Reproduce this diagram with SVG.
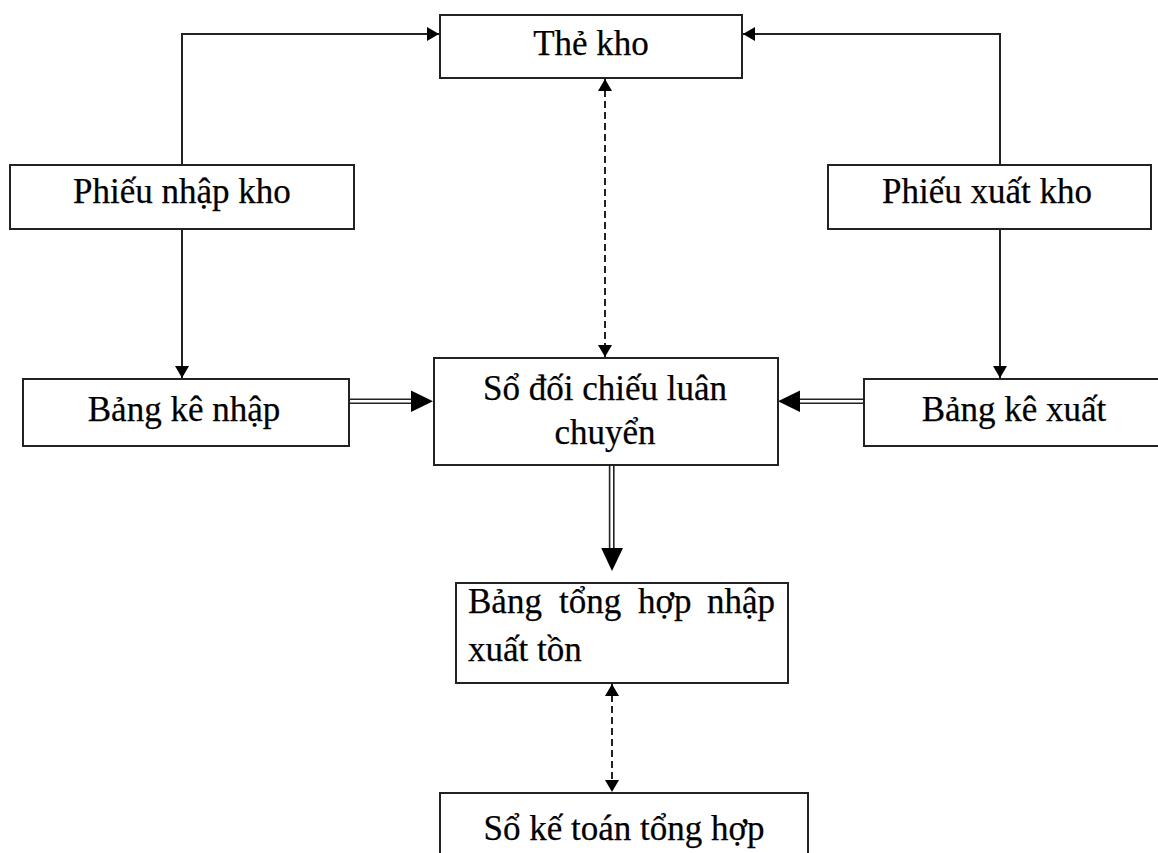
<svg xmlns="http://www.w3.org/2000/svg" width="1158" height="853" viewBox="0 0 1158 853">
  <style>
    .box { fill: #fff; stroke: #222; stroke-width: 2; }
    .lbl { font-family: "Liberation Serif", "Times New Roman", serif; font-size: 35px; fill: #000; stroke: #000; stroke-width: 0.25; }
    .wire { fill: none; stroke: #222; stroke-width: 2; }
    .dash { fill: none; stroke: #222; stroke-width: 2; stroke-dasharray: 7 4; }
    .dbl { fill: none; stroke: #222; stroke-width: 1.6; }
    .head { fill: #000; }
  </style>
  <defs>
    <marker id="tip" viewBox="0 0 12 14" refX="12" refY="7" markerWidth="12" markerHeight="14" markerUnits="userSpaceOnUse" orient="auto">
      <path d="M0,0 L12,7 L0,14 Z" fill="#000"/>
    </marker>
    <marker id="tipStart" viewBox="0 0 12 14" refX="0" refY="7" markerWidth="12" markerHeight="14" markerUnits="userSpaceOnUse" orient="auto">
      <path d="M12,0 L0,7 L12,14 Z" fill="#000"/>
    </marker>
  </defs>

  <g id="connectors">
    <!-- Phiếu nhập kho -> Thẻ kho -->
    <path class="wire" d="M182,165 V34 H439" marker-end="url(#tip)"/>
    <!-- Phiếu xuất kho -> Thẻ kho -->
    <path class="wire" d="M1000,165 V34 H743" marker-end="url(#tip)"/>
    <!-- Phiếu nhập kho -> Bảng kê nhập -->
    <path class="wire" d="M182,229 V378" marker-end="url(#tip)"/>
    <!-- Phiếu xuất kho -> Bảng kê xuất -->
    <path class="wire" d="M1000,229 V378" marker-end="url(#tip)"/>
    <!-- Thẻ kho <-> Sổ đối chiếu luân chuyển (dashed, both ends) -->
    <path class="dash" d="M605,79 V357" marker-start="url(#tipStart)" marker-end="url(#tip)"/>
    <!-- Bảng tổng hợp <-> Sổ kế toán tổng hợp (dashed, both ends) -->
    <path class="dash" d="M612,684 V792" marker-start="url(#tipStart)" marker-end="url(#tip)"/>

    <!-- Bảng kê nhập => Sổ đối chiếu (double line) -->
    <line class="dbl" x1="349" y1="399.2" x2="413" y2="399.2"/>
    <line class="dbl" x1="349" y1="403.2" x2="413" y2="403.2"/>
    <polygon class="head" points="411,390.5 433,401.2 411,412"/>
    <!-- Bảng kê xuất => Sổ đối chiếu (double line) -->
    <line class="dbl" x1="864" y1="399.2" x2="798" y2="399.2"/>
    <line class="dbl" x1="864" y1="403.2" x2="798" y2="403.2"/>
    <polygon class="head" points="800,390.5 778,401.2 800,412"/>
    <!-- Sổ đối chiếu => Bảng tổng hợp (double line) -->
    <line class="dbl" x1="609.6" y1="465" x2="609.6" y2="550"/>
    <line class="dbl" x1="613.8" y1="465" x2="613.8" y2="550"/>
    <polygon class="head" points="601.2,548 623,548 612,571"/>
  </g>

  <g id="the-kho">
    <rect class="box" x="440" y="15" width="302" height="63"/>
    <text class="lbl" x="591" y="55" text-anchor="middle">Thẻ kho</text>
  </g>

  <g id="phieu-nhap-kho">
    <rect class="box" x="10" y="165" width="344" height="64"/>
    <text class="lbl" x="182" y="203" text-anchor="middle">Phiếu nhập kho</text>
  </g>

  <g id="phieu-xuat-kho">
    <rect class="box" x="828" y="165" width="323" height="64"/>
    <text class="lbl" x="987" y="203" text-anchor="middle">Phiếu xuất kho</text>
  </g>

  <g id="bang-ke-nhap">
    <rect class="box" x="23" y="379" width="326" height="67"/>
    <text class="lbl" x="184" y="421" text-anchor="middle">Bảng kê nhập</text>
  </g>

  <g id="bang-ke-xuat">
    <rect class="box" x="864" y="379" width="300" height="67"/>
    <text class="lbl" x="1014" y="421" text-anchor="middle">Bảng kê xuất</text>
  </g>

  <g id="so-doi-chieu">
    <rect class="box" x="434" y="358" width="344" height="107"/>
    <text class="lbl" x="605" y="400" text-anchor="middle">Sổ đối chiếu luân</text>
    <text class="lbl" x="605" y="444" text-anchor="middle">chuyển</text>
  </g>

  <g id="bang-tong-hop">
    <rect class="box" x="456" y="583" width="332" height="100"/>
    <!-- justified first line: words spread across the box width -->
    <text class="lbl" y="613"><tspan x="468">Bảng</tspan><tspan x="559">tổng</tspan><tspan x="638">hợp</tspan></text>
    <text class="lbl" x="775" y="613" text-anchor="end">nhập</text>
    <text class="lbl" x="468" y="661">xuất tồn</text>
  </g>

  <g id="so-ke-toan-tong-hop">
    <rect class="box" x="440" y="793" width="368" height="80"/>
    <text class="lbl" x="624" y="840" text-anchor="middle">Sổ kế toán tổng hợp</text>
  </g>
</svg>
